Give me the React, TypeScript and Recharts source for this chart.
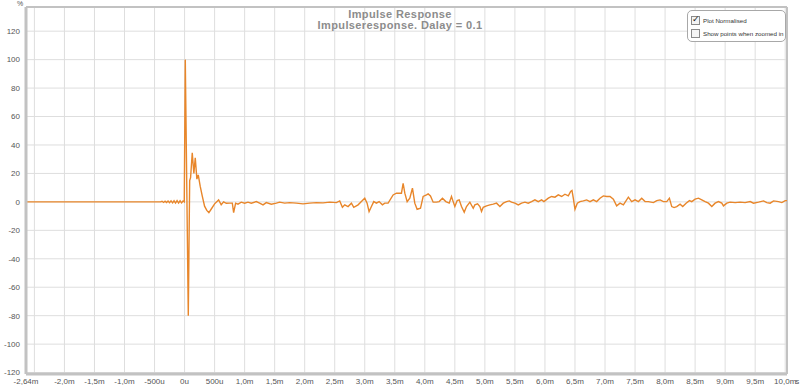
import { CartesianGrid, Line, LineChart, ReferenceLine, XAxis, YAxis } from 'recharts';

// time axis in ms, response in %
const preTimes = [-2.64, -2.0, -1.5, -1.0, -0.5, -0.4, -0.375, -0.35, -0.325, -0.3, -0.275, -0.25, -0.225, -0.2, -0.175, -0.15, -0.125, -0.1, -0.075, -0.05, -0.025, -0.005];
const preValues = [0, 0, 0, 0, 0, 0, 0.4, -0.4, 0.5, -0.5, 0.6, -0.6, 0.7, -0.7, 0.8, -0.8, 0.9, -0.8, 0.8, -0.7, 0.6, 0];

const impulseTimes = [0.012, 0.062, 0.085, 0.1, 0.128, 0.155, 0.178, 0.205, 0.228, 0.26, 0.295, 0.333, 0.37, 0.405, 0.445, 0.5, 0.567, 0.61, 0.65, 0.695, 0.75, 0.795, 0.817, 0.85, 0.889, 0.944];
const impulseValues = [100, -80, 15, 17, 34.5, 20, 31, 16, 19, 11, 4, -3, -6, -7.5, -5, -1.4, 1.4, -2, 0, -1, -0.9, -0.9, -7.5, -0.9, -1.6, -0.2];

const midTimes = [1.0, 1.056, 1.111, 1.194, 1.25, 1.306, 1.361, 1.444, 1.528, 1.583, 1.667, 1.75, 1.861, 1.972, 2.083, 2.194, 2.306, 2.417, 2.528, 2.583, 2.628, 2.667, 2.722, 2.778, 2.817, 2.889, 2.944, 3.0, 3.039, 3.072, 3.111, 3.15, 3.194, 3.239, 3.294, 3.333, 3.389, 3.472, 3.528, 3.611, 3.639, 3.667, 3.706, 3.75, 3.794, 3.833, 3.872, 3.928, 3.972, 4.028];
const midValues = [-0.9, -0.2, -0.9, 0.2, -0.9, -2.1, -0.5, -1.6, -0.9, -0.2, -0.9, -0.5, -0.9, -1.4, -0.9, -0.5, -0.7, -0.2, -0.5, 0.7, -3.8, -2.1, -3.3, -0.9, -3.8, -2.1, 0.2, 2.6, -0.9, -6.8, -3.3, 0.2, -0.9, 0.2, -2.1, -0.9, -0.9, 4.9, 6.1, 6.1, 13.1, 6.1, 0.2, 2.6, 9.6, -0.9, -5.2, -4.5, 3.8, 4.9];

const lateTimes = [4.056, 4.094, 4.139, 4.194, 4.239, 4.294, 4.35, 4.406, 4.444, 4.472, 4.5, 4.539, 4.572, 4.611, 4.656, 4.694, 4.75, 4.806, 4.833, 4.878, 4.917, 4.944, 4.972, 5.028, 5.083, 5.139, 5.194, 5.25, 5.306, 5.361, 5.406, 5.444, 5.5, 5.556, 5.611, 5.667, 5.722, 5.778, 5.833, 5.889, 5.944, 5.983, 6.056, 6.111, 6.167, 6.222, 6.278, 6.333, 6.389, 6.428, 6.45, 6.472, 6.5, 6.539, 6.583, 6.639, 6.694, 6.75, 6.806, 6.861, 6.917, 6.972, 7.028, 7.083];
const lateValues = [5.6, 4.2, -0.2, -0.2, 0.2, 2.6, 0.2, -0.9, 3.8, 0.2, -3.3, 0.9, 1.4, -3.3, -7.3, -3.3, -0.2, -4.5, -2.1, -1.4, -3.3, -6.8, -3.8, -2.8, -2.1, -1.6, -0.9, -3.3, -0.9, 0.2, 0.7, -0.2, -0.9, -2.1, -0.9, -0.2, -0.9, 0.2, 1.4, 0.2, 1.4, 0.2, 2.6, 3.8, 3.3, 4.9, 3.8, 5.4, 4.2, 7.3, 8.0, 2.6, -5.2, -0.9, 0.2, 0.7, 1.4, 0.2, 1.4, 0.2, 2.6, 4.2, 3.8, 3.8];

const endTimes = [7.139, 7.194, 7.25, 7.306, 7.389, 7.444, 7.5, 7.556, 7.611, 7.667, 7.722, 7.806, 7.861, 7.917, 7.972, 8.028, 8.072, 8.111, 8.15, 8.194, 8.25, 8.294, 8.35, 8.406, 8.444, 8.5, 8.556, 8.611, 8.667, 8.722, 8.778, 8.833, 8.889, 8.944, 8.972, 9.028, 9.083, 9.167, 9.25, 9.333, 9.417, 9.472, 9.556, 9.639, 9.694, 9.75, 9.806, 9.889, 9.944, 10.0, 10.03];
const endValues = [1.9, -2.8, -0.9, -2.1, 3.3, 0.2, 1.4, 0.2, 2.6, 0.2, 0.2, -0.5, 0.9, 1.4, 0.2, 0.2, 2.6, -3.3, -4.0, -3.3, -1.6, -3.3, -0.9, 0.9, 0.2, 1.9, 2.6, 1.4, 0.2, -0.9, -3.3, -0.9, 0.2, -0.9, -2.8, -0.9, -0.2, -0.5, -0.2, -0.5, 0.2, -0.9, -0.2, 0.7, -0.5, -0.9, 0.7, 0.2, -0.5, 0.9, 0.9];

const xTickValues = [-2.64, -2, -1.5, -1, -0.5, 0, 0.5, 1, 1.5, 2, 2.5, 3, 3.5, 4, 4.5, 5, 5.5, 6, 6.5, 7, 7.5, 8, 8.5, 9, 9.5, 10];
const xTickLabels = ['-2,64m', '-2,0m', '-1,5m', '-1,0m', '-500u', '0u', '500u', '1,0m', '1,5m', '2,0m', '2,5m', '3,0m', '3,5m', '4,0m', '4,5m', '5,0m', '5,5m', '6,0m', '6,5m', '7,0m', '7,5m', '8,0m', '8,5m', '9,0m', '9,5m', '10,0m'];
const yTickValues = [-120, -100, -80, -60, -40, -20, 0, 20, 40, 60, 80, 100, 120];

const allTimes = [...preTimes, ...impulseTimes, ...midTimes, ...lateTimes, ...endTimes];
const allValues = [...preValues, ...impulseValues, ...midValues, ...lateValues, ...endValues];
const data = allTimes.map((t, i) => ({ t, v: allValues[i] }));

const FONT = '"Liberation Sans", Arial, sans-serif';
const FRAME = '#c2c2c2';
const GRID = '#dedede';

function XTick(props: any) {
  const { x, y, payload } = props;
  const idx = xTickValues.indexOf(payload.value);
  const label = idx >= 0 ? xTickLabels[idx] : '';
  return (
    <g>
      <text x={x} y={y} dy="0.71em" textAnchor="middle" fontSize={8} fill="#555" fontFamily={FONT}>
        {label}
      </text>
      {payload.value === 10 && (
        <text x={x + 10} y={y} dy="0.71em" textAnchor="start" fontSize={8} fill="#555" fontFamily={FONT}>
          s
        </text>
      )}
    </g>
  );
}

function CheckBox({ checked }: { checked: boolean }) {
  return (
    <span
      style={{
        display: 'inline-block',
        flex: 'none',
        width: 7,
        height: 7,
        border: '1px solid #8a8a8a',
        background: '#f4f4f4',
        marginRight: 3,
        position: 'relative',
      }}
    >
      {checked && (
        <span style={{ position: 'absolute', left: 0, top: -3, fontSize: 9, lineHeight: '10px', color: '#222' }}>✓</span>
      )}
    </span>
  );
}

export default function App() {
  return (
    <div style={{ position: 'absolute', left: 0, top: 0, width: 800, height: 385, background: '#fff', fontFamily: FONT, overflow: 'hidden' }}>
      <LineChart width={800} height={385} data={data} margin={{ top: 7, right: 13, bottom: 0, left: 0 }}>
        <CartesianGrid stroke={GRID} strokeWidth={1} />
        <ReferenceLine x={-2.5} stroke={GRID} strokeWidth={1} />
        <XAxis
          type="number"
          dataKey="t"
          domain={[-2.64, 10.03]}
          ticks={xTickValues}
          height={11}
          tickSize={2}
          tickLine={false}
          tick={<XTick />}
          axisLine={{ stroke: FRAME, strokeWidth: 3 }}
          interval={0}
        />
        <YAxis
          type="number"
          domain={[-121, 137]}
          ticks={yTickValues}
          width={26}
          tickSize={4}
          tickLine={false}
          tick={{ fontSize: 8, fill: '#555', fontFamily: FONT }}
          axisLine={{ stroke: FRAME, strokeWidth: 3 }}
          interval={0}
        />
        <ReferenceLine y={137} stroke={FRAME} strokeWidth={2} />
        <ReferenceLine x={10.03} stroke={FRAME} strokeWidth={2} />
        <Line type="linear" dataKey="v" stroke="#e8862a" strokeWidth={1.4} dot={false} isAnimationActive={false} />
      </LineChart>

      <div style={{ position: 'absolute', left: 17, top: 0, fontSize: 7, lineHeight: '7px', color: '#555' }}>%</div>

      <div
        style={{
          position: 'absolute',
          left: 0,
          width: 800,
          top: 9,
          textAlign: 'center',
          fontSize: 11,
          fontWeight: 'bold',
          letterSpacing: 0.4,
          color: '#8c8c8c',
          lineHeight: '11px',
        }}
      >
        <div>Impulse Response</div>
        <div>Impulseresponse. Dalay = 0.1</div>
      </div>

      <div
        style={{
          position: 'absolute',
          left: 687,
          top: 10,
          width: 99,
          height: 32,
          border: '1px solid #a8a8a8',
          borderRadius: 5,
          background: '#fff',
          fontSize: 6.2,
          color: '#333',
          boxSizing: 'border-box',
          paddingLeft: 3,
          paddingTop: 3,
          whiteSpace: 'nowrap',
        }}
      >
        <div style={{ height: 13, display: 'flex', alignItems: 'center' }}>
          <CheckBox checked />
          <span>Plot Normalised</span>
        </div>
        <div style={{ height: 13, display: 'flex', alignItems: 'center' }}>
          <CheckBox checked={false} />
          <span>Show points when zoomed in</span>
        </div>
      </div>
    </div>
  );
}
